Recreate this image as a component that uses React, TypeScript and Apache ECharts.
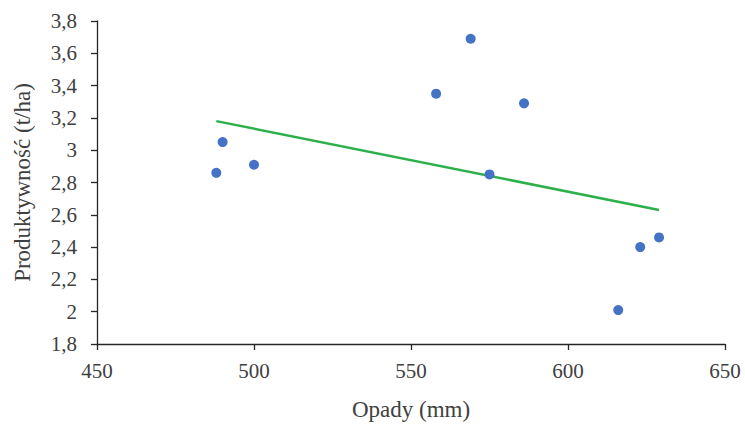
import React, { useEffect, useRef } from "react";
import * as echarts from "echarts";

const opady = [488, 490, 500, 558, 569, 575, 586, 616, 623, 629];
const produktywnosc = [2.86, 3.05, 2.91, 3.35, 3.69, 2.85, 3.29, 2.01, 2.4, 2.46];
const trendX = [488, 629];
const trendY = [3.18, 2.63];

const FONT = "'Liberation Serif', 'DejaVu Serif', serif";

export default function App() {
  const ref = useRef<HTMLDivElement>(null);
  useEffect(() => {
    if (!ref.current) return;
    const chart = echarts.init(ref.current, null, { renderer: "svg" });
    chart.setOption({
      animation: false,
      backgroundColor: "#ffffff",
      grid: { left: 97, right: 20, top: 21, bottom: 80 },
      xAxis: {
        type: "value",
        min: 450,
        max: 650,
        interval: 50,
        name: "Opady (mm)",
        nameLocation: "middle",
        nameGap: 54,
        nameTextStyle: { fontFamily: FONT, fontSize: 23, color: "#404040" },
        axisLine: { show: true, lineStyle: { color: "#262626", width: 1.3 } },
        axisTick: { show: true, length: 6, lineStyle: { color: "#262626", width: 1.3 } },
        axisLabel: { fontFamily: FONT, fontSize: 21, color: "#404040", margin: 16 },
        splitLine: { show: false },
      },
      yAxis: {
        type: "value",
        min: 1.8,
        max: 3.8,
        interval: 0.2,
        name: "Produktywność (t/ha)",
        nameLocation: "middle",
        nameGap: 63,
        nameTextStyle: { fontFamily: FONT, fontSize: 23, color: "#404040" },
        axisLine: { show: true, lineStyle: { color: "#262626", width: 1.3 } },
        axisTick: { show: true, length: 6, lineStyle: { color: "#262626", width: 1.3 } },
        axisLabel: {
          fontFamily: FONT,
          fontSize: 21,
          color: "#404040",
          margin: 20,
          formatter: (v: number) => String(Math.round(v * 10) / 10).replace(".", ","),
        },
        splitLine: { show: false },
      },
      series: [
        {
          type: "line",
          data: trendX.map((x, i) => [x, trendY[i]]),
          symbol: "none",
          lineStyle: { color: "#2DB04B", width: 2.5 },
          z: 1,
        },
        {
          type: "scatter",
          data: opady.map((x, i) => [x, produktywnosc[i]]),
          symbol: "circle",
          symbolSize: 10,
          itemStyle: { color: "#4472C4", opacity: 1 },
          z: 2,
        },
      ],
    });
    return () => chart.dispose();
  }, []);
  return <div ref={ref} style={{ width: 745, height: 426, position: "absolute", left: 0, top: 0 }} />;
}
